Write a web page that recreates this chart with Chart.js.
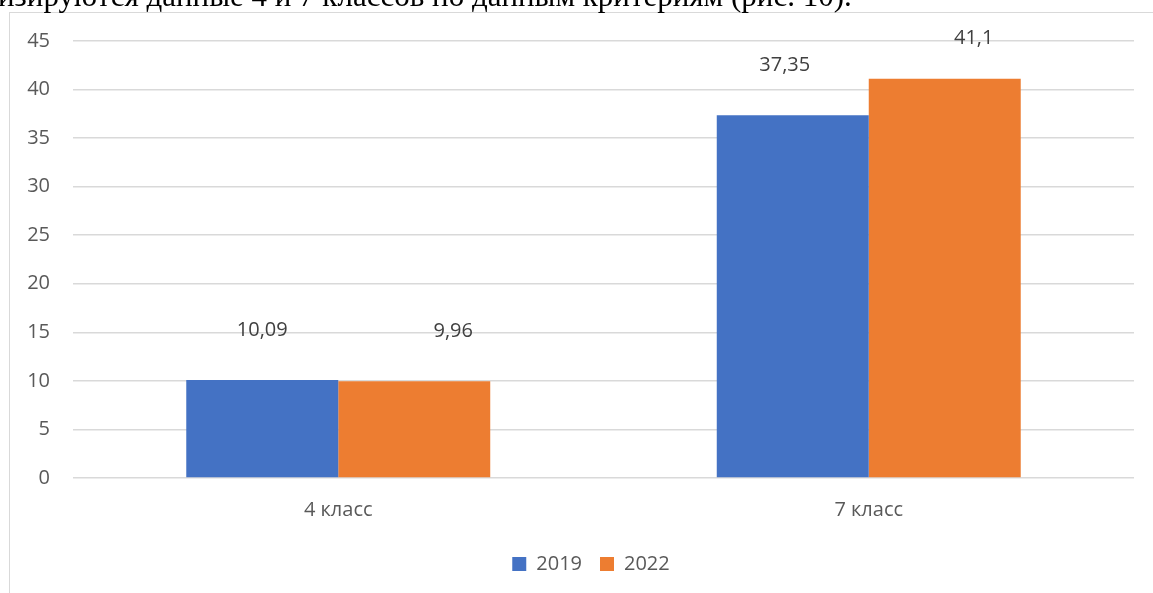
<!DOCTYPE html>
<html lang="ru">
<head>
  <meta charset="UTF-8">
  <title>4 и 7 класс, 2019 / 2022</title>
  <script src="https://cdn.jsdelivr.net/npm/chart.js"></script>
  <style>
    html, body { margin: 0; padding: 0; background: #fff; overflow: hidden; }
    #wrap { position: relative; width: 1153px; height: 593px; }
    #frame { position: absolute; left: 9px; top: 12px; right: 0; bottom: 0;
             border-left: 1px solid #d9d9d9; border-top: 1px solid #d9d9d9; }
    #caption { position: absolute; left: -2px; top: -20px; white-space: nowrap;
               font: 31px/31px "Liberation Serif", "Times New Roman", serif; color: #000; }
    canvas { position: absolute; left: 0; top: 0; }
  </style>
</head>
<body>
  <div id="wrap">
    <div id="frame"></div>
    <canvas id="chart" width="1153" height="593"></canvas>
    <div id="caption">изируются данные 4 и 7 классов по данным критериям (рис. 10).</div>
  </div>

  <script>
    const categories = ['4 класс', '7 класс'];
    const seriesNames = ['2019', '2022'];
    const values2019 = [10.09, 37.35];
    const values2022 = [9.96, 41.1];
    const yMax = 45;
    const yStep = 5;

    const FONT = '"Open Sans", "Noto Sans", sans-serif';

    // labels over the bars, comma as decimal mark, like the original
    const barLabels = {
      id: 'barLabels',
      afterLayout(chart, args, opts) {
        // legend sits a bit right of the canvas centre in the original
        chart.legend.left += opts.legendShift;
        chart.legend.right += opts.legendShift;
      },
      afterDatasetsDraw(chart, args, opts) {
        const ctx = chart.ctx;
        ctx.save();
        ctx.font = '20px ' + FONT;
        ctx.fillStyle = '#404040';
        ctx.textAlign = 'center';
        ctx.textBaseline = 'middle';
        chart.data.datasets.forEach((ds, i) => {
          chart.getDatasetMeta(i).data.forEach((bar, j) => {
            const shift = opts.shift[i][j];
            const y = Math.max(bar.y - 50, chart.chartArea.top - 3);
            ctx.fillText(String(ds.data[j]).replace('.', ','), bar.x + shift, y);
          });
        });
        ctx.restore();
      }
    };

    new Chart(document.getElementById('chart'), {
      type: 'bar',
      data: {
        labels: categories,
        datasets: [
          { label: seriesNames[0], data: values2019, backgroundColor: '#4472C4' },
          { label: seriesNames[1], data: values2022, backgroundColor: '#ED7D31' }
        ]
      },
      options: {
        responsive: false,
        animation: false,
        layout: { padding: { top: 41, right: 19, bottom: 9, left: 0 } },
        datasets: { bar: { barPercentage: 1, categoryPercentage: 0.573 } },
        scales: {
          x: {
            grid: { display: false },
            border: { display: false },
            ticks: { color: '#595959', font: { family: FONT, size: 20 }, padding: 12 },
            afterFit(scale) { scale.height = 58; }
          },
          y: {
            min: 0,
            max: yMax,
            grid: { color: '#d9d9d9', lineWidth: 1.5, drawTicks: false },
            border: { display: false },
            ticks: { stepSize: yStep, color: '#595959', font: { family: FONT, size: 20 }, padding: 23 },
            afterFit(scale) { scale.width = 73; }
          }
        },
        plugins: {
          legend: {
            position: 'bottom',
            labels: {
              color: '#595959',
              font: { family: FONT, size: 20 },
              boxWidth: 14,
              boxHeight: 14,
              padding: 18
            }
          },
          tooltip: { enabled: false },
          barLabels: { shift: [[0, -8], [39, 29]], legendShift: 24 }
        }
      },
      plugins: [barLabels]
    });
  </script>
</body>
</html>
